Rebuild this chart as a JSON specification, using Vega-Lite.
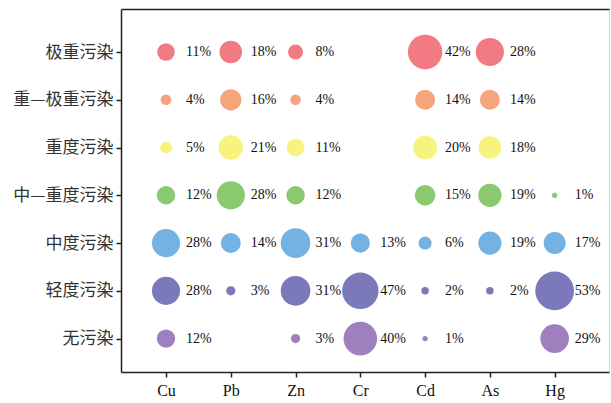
{
  "$schema": "https://vega.github.io/schema/vega-lite/v6.json",
  "width": 488,
  "height": 363,
  "autosize": {"type": "none"},
  "padding": {"left": 121, "top": 9, "right": 2, "bottom": 31},
  "background": "white",
  "config": {
    "view": {"stroke": "#d0d0d0", "strokeWidth": 1},
    "axis": {"grid": false}
  },
  "data": {
    "values": [
      {"metal": "Cu", "level": "极重污染", "pct": 11},
      {"metal": "Cu", "level": "重—极重污染", "pct": 4},
      {"metal": "Cu", "level": "重度污染", "pct": 5},
      {"metal": "Cu", "level": "中—重度污染", "pct": 12},
      {"metal": "Cu", "level": "中度污染", "pct": 28},
      {"metal": "Cu", "level": "轻度污染", "pct": 28},
      {"metal": "Cu", "level": "无污染", "pct": 12},
      {"metal": "Pb", "level": "极重污染", "pct": 18},
      {"metal": "Pb", "level": "重—极重污染", "pct": 16},
      {"metal": "Pb", "level": "重度污染", "pct": 21},
      {"metal": "Pb", "level": "中—重度污染", "pct": 28},
      {"metal": "Pb", "level": "中度污染", "pct": 14},
      {"metal": "Pb", "level": "轻度污染", "pct": 3},
      {"metal": "Zn", "level": "极重污染", "pct": 8},
      {"metal": "Zn", "level": "重—极重污染", "pct": 4},
      {"metal": "Zn", "level": "重度污染", "pct": 11},
      {"metal": "Zn", "level": "中—重度污染", "pct": 12},
      {"metal": "Zn", "level": "中度污染", "pct": 31},
      {"metal": "Zn", "level": "轻度污染", "pct": 31},
      {"metal": "Zn", "level": "无污染", "pct": 3},
      {"metal": "Cr", "level": "中度污染", "pct": 13},
      {"metal": "Cr", "level": "轻度污染", "pct": 47},
      {"metal": "Cr", "level": "无污染", "pct": 40},
      {"metal": "Cd", "level": "极重污染", "pct": 42},
      {"metal": "Cd", "level": "重—极重污染", "pct": 14},
      {"metal": "Cd", "level": "重度污染", "pct": 20},
      {"metal": "Cd", "level": "中—重度污染", "pct": 15},
      {"metal": "Cd", "level": "中度污染", "pct": 6},
      {"metal": "Cd", "level": "轻度污染", "pct": 2},
      {"metal": "Cd", "level": "无污染", "pct": 1},
      {"metal": "As", "level": "极重污染", "pct": 28},
      {"metal": "As", "level": "重—极重污染", "pct": 14},
      {"metal": "As", "level": "重度污染", "pct": 18},
      {"metal": "As", "level": "中—重度污染", "pct": 19},
      {"metal": "As", "level": "中度污染", "pct": 19},
      {"metal": "As", "level": "轻度污染", "pct": 2},
      {"metal": "Hg", "level": "中—重度污染", "pct": 1},
      {"metal": "Hg", "level": "中度污染", "pct": 17},
      {"metal": "Hg", "level": "轻度污染", "pct": 53},
      {"metal": "Hg", "level": "无污染", "pct": 29}
    ]
  },
  "encoding": {
    "y": {
      "field": "level",
      "type": "nominal",
      "sort": ["极重污染", "重—极重污染", "重度污染", "中—重度污染", "中度污染", "轻度污染", "无污染"],
      "scale": {"type": "point", "padding": 0.8, "align": 0.563},
      "axis": {
        "title": null,
        "domainColor": "#222",
        "domainWidth": 1.5,
        "tickColor": "#222",
        "tickWidth": 1.5,
        "tickSize": 5,
        "labelFont": "Noto Sans CJK SC",
        "labelFontSize": 17,
        "labelColor": "#333",
        "labelPadding": 3
      }
    }
  },
  "layer": [
    {
      "transform": [{"calculate": "datum.pct + '%'", "as": "label"}],
      "mark": {"type": "text", "align": "left", "baseline": "middle", "dx": 20, "font": "Liberation Serif", "fontSize": 14, "color": "#111"},
      "encoding": {
        "x": {
          "field": "metal",
          "type": "nominal",
          "sort": ["Cu", "Pb", "Zn", "Cr", "Cd", "As", "Hg"],
          "scale": {"type": "point", "padding": 0.767, "align": 0.453},
          "axis": {
            "title": null,
            "orient": "bottom",
            "labelAngle": 0,
            "domainColor": "#222",
            "domainWidth": 1.5,
            "tickColor": "#222",
            "tickWidth": 1.5,
            "tickSize": 5,
            "labelFont": "Liberation Serif",
            "labelFontSize": 16,
            "labelColor": "#111",
            "labelPadding": 5
          }
        },
        "text": {"field": "label", "type": "nominal"}
      }
    },
    {
      "mark": {"type": "circle", "opacity": 1, "strokeWidth": 0},
      "encoding": {
        "x": {
          "field": "metal",
          "type": "nominal",
          "sort": ["Cu", "Pb", "Zn", "Cr", "Cd", "As", "Hg"],
          "axis": {
            "title": null,
            "orient": "top",
            "labels": false,
            "ticks": false,
            "domainColor": "#222",
            "domainWidth": 1.5
          }
        },
        "size": {
          "field": "pct",
          "type": "quantitative",
          "scale": {"type": "linear", "domain": [0, 53], "range": [0, 1500], "zero": true},
          "legend": null
        },
        "color": {
          "field": "level",
          "type": "nominal",
          "scale": {
            "domain": ["极重污染", "重—极重污染", "重度污染", "中—重度污染", "中度污染", "轻度污染", "无污染"],
            "range": ["#F27B83", "#F6A47B", "#F8F37F", "#8AC970", "#73B2E2", "#7B79BA", "#9E80BF"]
          },
          "legend": null
        }
      }
    }
  ],
  "resolve": {"axis": {"x": "independent"}}
}
